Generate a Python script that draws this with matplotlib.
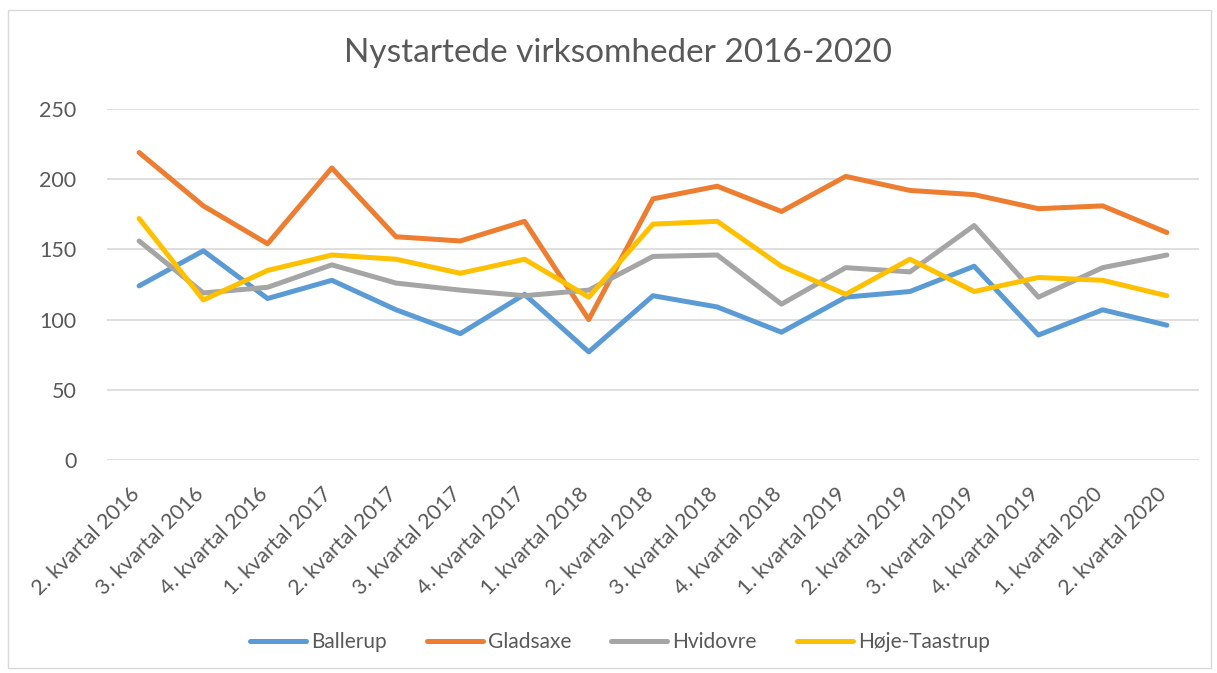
import matplotlib.pyplot as plt
import matplotlib.transforms as mtransforms
from matplotlib.patches import Rectangle

# data
quarters = ['2. kvartal 2016', '3. kvartal 2016', '4. kvartal 2016',
            '1. kvartal 2017', '2. kvartal 2017', '3. kvartal 2017', '4. kvartal 2017',
            '1. kvartal 2018', '2. kvartal 2018', '3. kvartal 2018', '4. kvartal 2018',
            '1. kvartal 2019', '2. kvartal 2019', '3. kvartal 2019', '4. kvartal 2019',
            '1. kvartal 2020', '2. kvartal 2020']
ballerup = [124, 149, 115, 128, 107, 90, 118, 77, 117, 109, 91, 116, 120, 138, 89, 107, 96]
gladsaxe = [219, 181, 154, 208, 159, 156, 170, 100, 186, 195, 177, 202, 192, 189, 179, 181, 162]
hvidovre = [156, 119, 123, 139, 126, 121, 117, 121, 145, 146, 111, 137, 134, 167, 116, 137, 146]
hoeje_taastrup = [172, 114, 135, 146, 143, 133, 143, 116, 168, 170, 138, 118, 143, 120, 130, 128, 117]

names = ['Ballerup', 'Gladsaxe', 'Hvidovre', 'Høje-Taastrup']
series = [ballerup, gladsaxe, hvidovre, hoeje_taastrup]
colors = ['#5B9BD5', '#ED7D31', '#A5A5A5', '#FFC000']

plt.rcParams['font.family'] = ['Lato', 'DejaVu Sans']
txt = '#595959'

fig = plt.figure(figsize=(12.17, 6.73), dpi=100)
ax = fig.add_axes([107 / 1217, 1 - 460 / 673, (1199 - 107) / 1217, (460 - 109) / 673])

x = list(range(len(quarters)))
for vals, name, col in zip(series, names, colors):
    ax.plot(x, vals, color=col, lw=3.6, label=name, solid_capstyle='round',
            solid_joinstyle='round')

ax.set_xlim(-0.5, len(quarters) - 0.5)
ax.set_ylim(0, 250)
ax.set_yticks(range(0, 251, 50))
ax.yaxis.grid(True, color='#D9D9D9', lw=1.2)
ax.set_axisbelow(True)
for s in ax.spines.values():
    s.set_visible(False)
ax.tick_params(axis='both', length=0, colors=txt, labelsize=15.5)
ax.tick_params(axis='y', pad=22)
ax.set_xticks(x)
ax.set_xticklabels(quarters, rotation=45, ha='right', rotation_mode='anchor')
ax.tick_params(axis='x', pad=16)

# nudge the slanted labels so their upper end sits under the point
shift = mtransforms.ScaledTranslation(-10 / 100, -2 / 100, fig.dpi_scale_trans)
for lbl in ax.get_xticklabels():
    lbl.set_transform(lbl.get_transform() + shift)

fig.text(618 / 1217, 1 - 53 / 673, 'Nystartede virksomheder 2016-2020',
         ha='center', va='center', fontsize=24, color=txt)

fig.legend(loc='center', bbox_to_anchor=(620 / 1217, 1 - 642 / 673), ncol=4,
           frameon=False, fontsize=15, labelcolor=txt, handlelength=2.7,
           columnspacing=1.9, handletextpad=0.25)

fig.patches.append(Rectangle((8 / 1217, 5 / 673), 1203 / 1217, 658 / 673,
                             transform=fig.transFigure, fill=False,
                             edgecolor='#D9D9D9', lw=1))

fig.savefig('out.png', dpi=100)
